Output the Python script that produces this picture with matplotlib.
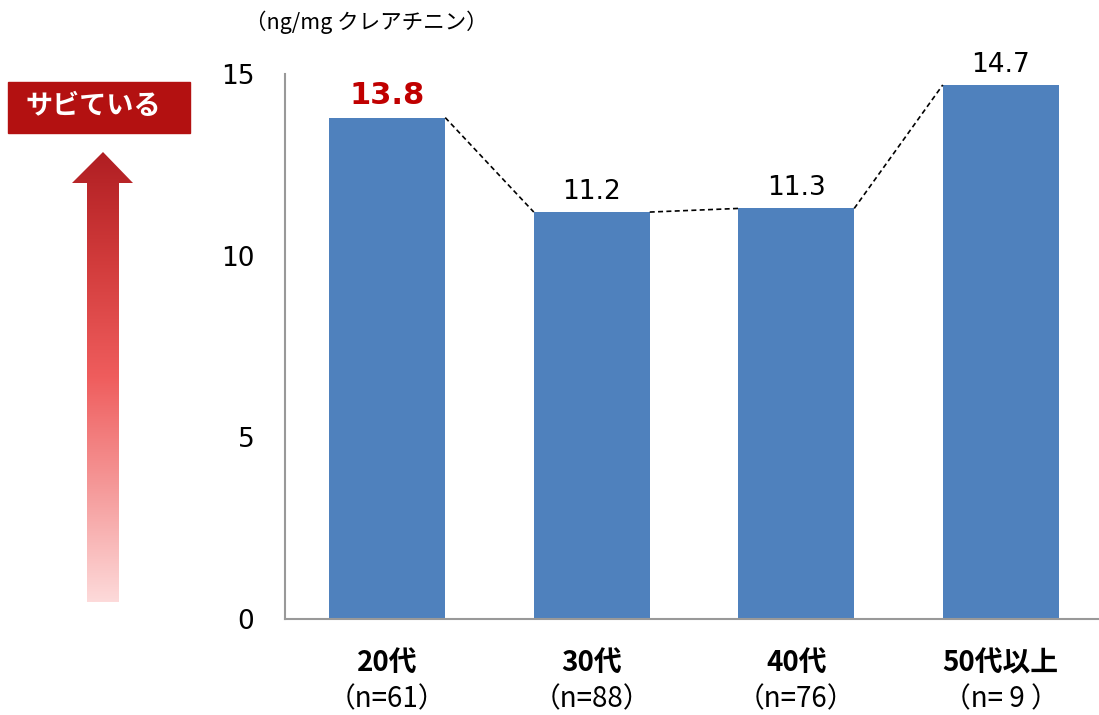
import numpy as np
import matplotlib.pyplot as plt
from matplotlib.colors import LinearSegmentedColormap
from matplotlib.patches import Polygon, Rectangle

plt.rcParams['font.family'] = ['Noto Sans CJK JP', 'DejaVu Sans']

# 年代別の測定値
groups = ['20代', '30代', '40代', '50代以上']
counts = ['（n=61）', '（n=88）', '（n=76）', '（n= 9 ）']
values = [13.8, 11.2, 11.3, 14.7]
yticks = [0, 5, 10, 15]

W, H = 1099, 715
fig = plt.figure(figsize=(W / 100, H / 100), dpi=100)

# 棒グラフ本体
ax = fig.add_axes([285 / W, 1 - 619 / H, (1103 - 285) / W, (619 - 74) / H])
x = np.arange(len(values))
bw = 0.567
ax.bar(x, values, width=bw, color='#4F81BD', zorder=2)
ax.set_xlim(-0.5, 3.5)
ax.set_ylim(0, 15)
ax.set_yticks(yticks)
ax.set_yticklabels([str(t) for t in yticks], fontsize=19,
                   family=['DejaVu Sans'])
ax.tick_params(axis='y', length=0, pad=22)
ax.set_xticks([])
for s in ['top', 'right']:
    ax.spines[s].set_visible(False)
for s in ['left', 'bottom']:
    ax.spines[s].set_color('#999999')
    ax.spines[s].set_linewidth(1.5)

# 棒の肩をつなぐ破線
for i in range(len(values) - 1):
    ax.plot([x[i] + bw / 2, x[i + 1] - bw / 2], [values[i], values[i + 1]],
            ls=(0, (3, 2)), color='black', lw=1.2, zorder=3, clip_on=False)

# 値ラベル
for i, v in enumerate(values):
    if i == 0:
        ax.text(x[i], v + 0.2, f'{v:.1f}', ha='center', va='bottom',
                fontsize=22, fontweight='bold', color='#C00000',
                family=['DejaVu Sans'])
    else:
        ax.text(x[i], v + 0.2, f'{v:.1f}', ha='center', va='bottom',
                fontsize=19, color='black', family=['DejaVu Sans'])

# 横軸ラベル（年代と人数）
for i in range(len(groups)):
    ax.text(x[i], -1.22, groups[i], ha='center', va='center',
            fontsize=20, fontweight='bold')
    ax.text(x[i], -2.2, counts[i], ha='center', va='center', fontsize=20)

# 単位
fig.text(366 / W, 1 - 22 / H, '（ng/mg クレアチニン）', ha='center', va='center',
         fontsize=15.5)

# 左側の「サビている」ラベルと矢印
ov = fig.add_axes([0, 0, 1, 1])
ov.set_xlim(0, W)
ov.set_ylim(H, 0)
ov.axis('off')

ov.add_patch(Rectangle((8, 82), 182, 51, color='#B31111'))
ov.text(93, 106, 'サビている', ha='center', va='center', fontsize=19.5,
        fontweight='bold', color='white')

arrow = Polygon([(103, 152), (133, 183), (119, 183), (119, 602),
                 (87, 602), (87, 183), (72, 183)], closed=True,
                facecolor='none', edgecolor='none')
ov.add_patch(arrow)
cmap = LinearSegmentedColormap.from_list(
    'rust', ['#B01E22', '#D23C3C', '#EF5D5D', '#F59A9A', '#FDDADA'])
grad = np.linspace(0, 1, 256).reshape(-1, 1)
img = ov.imshow(grad, cmap=cmap, extent=[72, 133, 602, 152], aspect='auto',
                interpolation='bilinear')
img.set_clip_path(arrow)
ov.set_xlim(0, W)
ov.set_ylim(H, 0)

fig.savefig('out.png', dpi=100)
